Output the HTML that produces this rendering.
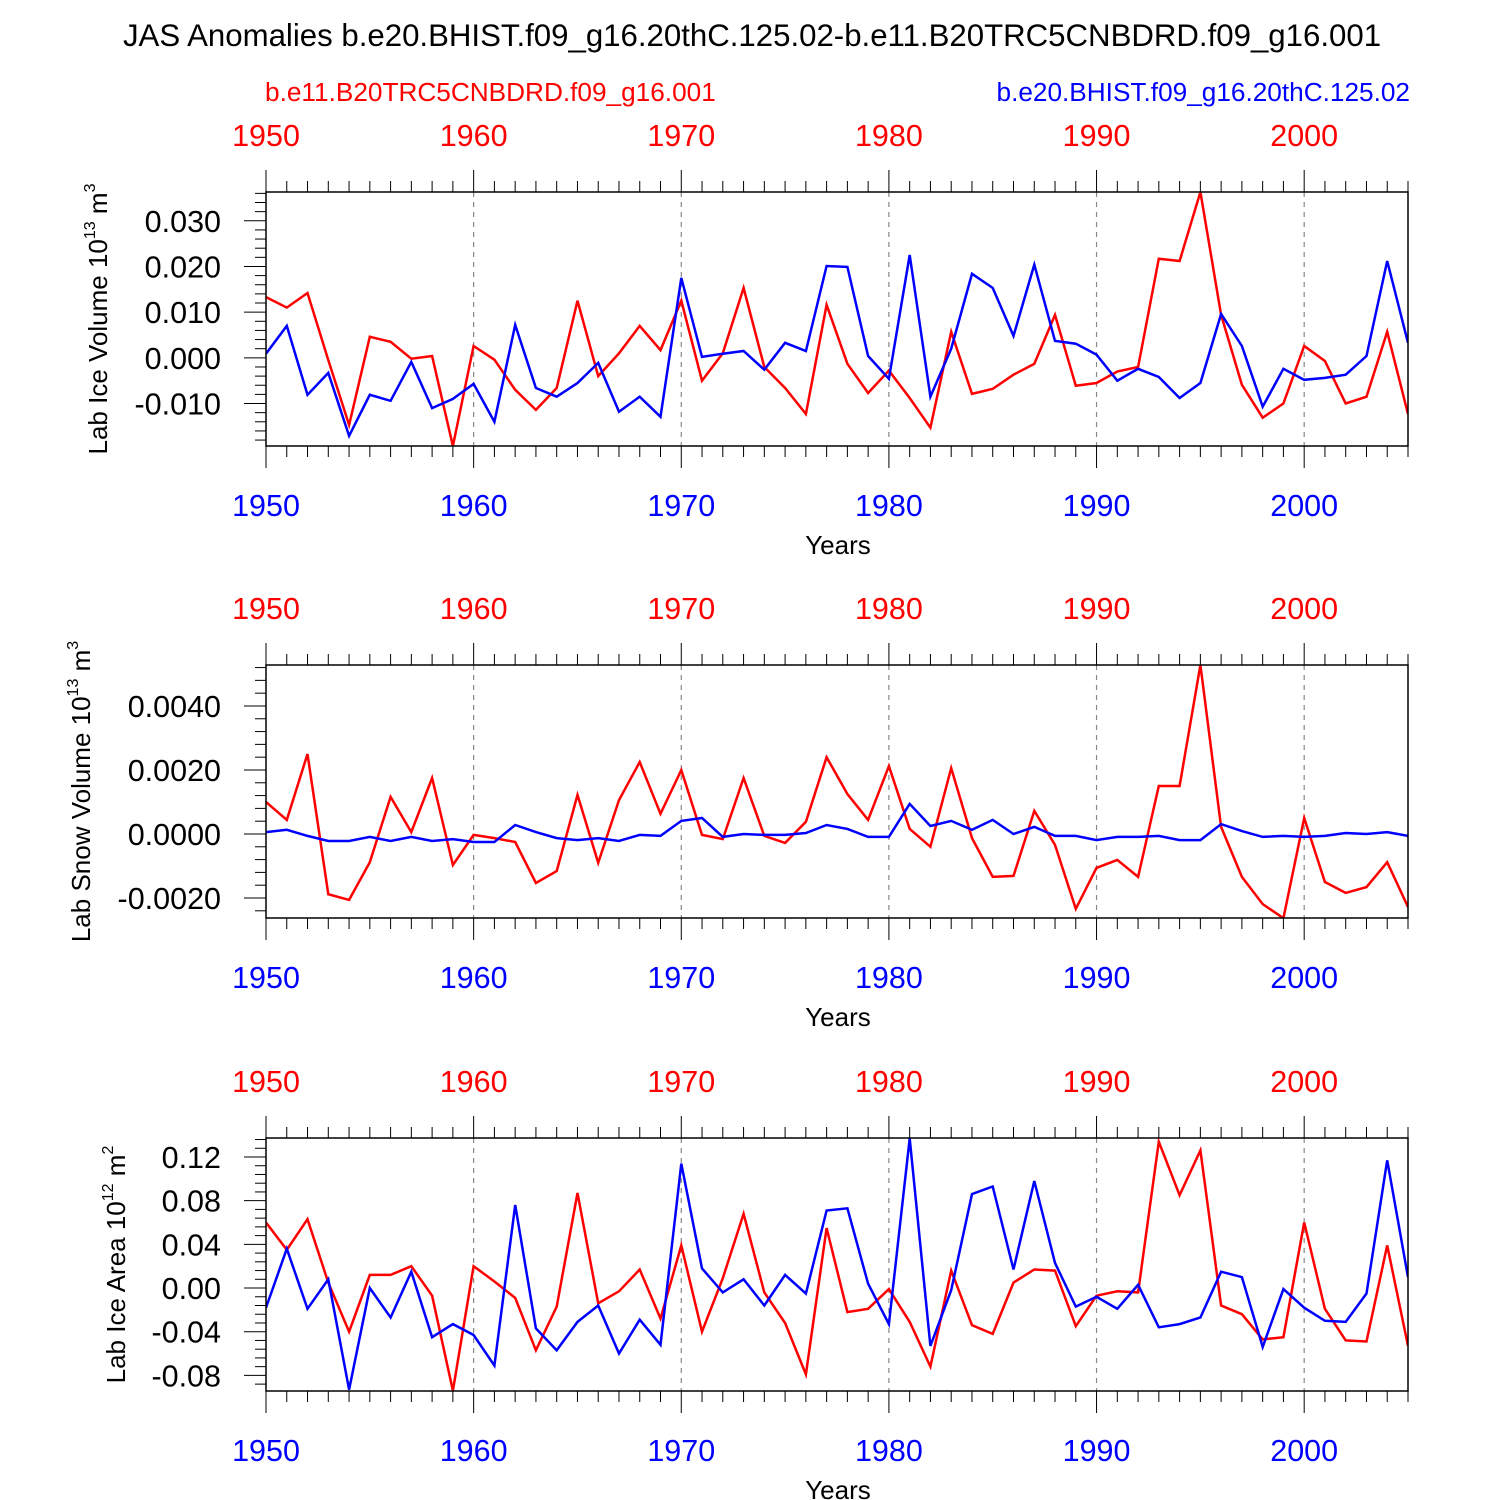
<!DOCTYPE html>
<html><head><meta charset="utf-8"><style>
html,body{margin:0;padding:0;background:#fff;}
svg{display:block;font-family:"Liberation Sans",Arial,sans-serif;}
</style></head><body>
<svg id="chart" width="1500" height="1500" viewBox="0 0 1500 1500" xmlns="http://www.w3.org/2000/svg">
<text x="752" y="46" font-size="31.2" text-anchor="middle">JAS Anomalies b.e20.BHIST.f09_g16.20thC.125.02-b.e11.B20TRC5CNBDRD.f09_g16.001</text>
<text x="265" y="101" font-size="26.2" fill="#ff0000">b.e11.B20TRC5CNBDRD.f09_g16.001</text>
<text x="1410" y="101" font-size="26.2" fill="#0000ff" text-anchor="end">b.e20.BHIST.f09_g16.20thC.125.02</text>
</svg>
<script>
const years = [];
for (let y = 1950; y <= 2005; y++) years.push(y);
const iceVolRed = [0.0133,0.011,0.0142,-0.0005,-0.0147,0.0046,0.0035,-0.0002,0.0004,-0.0193,0.0026,-0.0004,-0.007,-0.0114,-0.0066,0.0125,-0.004,0.001,0.007,0.0017,0.0125,-0.005,0.001,0.0153,-0.002,-0.0066,-0.0123,0.0116,-0.0013,-0.0077,-0.0028,-0.0088,-0.0153,0.0057,-0.0079,-0.0068,-0.0037,-0.0013,0.0094,-0.0061,-0.0055,-0.003,-0.002,0.0217,0.0212,0.0363,0.0094,-0.0059,-0.0131,-0.01,0.0026,-0.0007,-0.01,-0.0085,0.0057,-0.0123];
const iceVolBlue = [0.0009,0.007,-0.0081,-0.0033,-0.0171,-0.0081,-0.0094,-0.0009,-0.011,-0.009,-0.0057,-0.014,0.0072,-0.0066,-0.0085,-0.0055,-0.0011,-0.0118,-0.0085,-0.0129,0.0175,0.0002,0.0009,0.0015,-0.0026,0.0033,0.0015,0.0201,0.0199,0.0004,-0.0046,0.0225,-0.0085,0.002,0.0184,0.0153,0.0048,0.0204,0.0037,0.0031,0.0007,-0.005,-0.0024,-0.0042,-0.0088,-0.0055,0.0096,0.0026,-0.0107,-0.0024,-0.0048,-0.0044,-0.0037,0.0004,0.0212,0.0033];
const snowVolRed = [1.0,0.44,2.5,-1.88,-2.06,-0.88,1.16,0.06,1.75,-0.97,-0.03,-0.13,-0.25,-1.53,-1.16,1.22,-0.9,1.06,2.25,0.63,2.0,-0.03,-0.16,1.75,-0.06,-0.28,0.38,2.4,1.25,0.44,2.12,0.16,-0.4,2.06,-0.13,-1.34,-1.31,0.72,-0.34,-2.34,-1.06,-0.81,-1.34,1.5,1.5,5.28,0.22,-1.34,-2.19,-2.63,0.5,-1.5,-1.84,-1.66,-0.88,-2.28].map(v=>v/1000);
const snowVolBlue = [0.06,0.13,-0.06,-0.22,-0.22,-0.09,-0.22,-0.09,-0.22,-0.16,-0.25,-0.25,0.28,0.06,-0.13,-0.19,-0.13,-0.22,-0.03,-0.06,0.41,0.5,-0.09,0,-0.03,-0.03,0.03,0.28,0.16,-0.09,-0.09,0.94,0.25,0.41,0.13,0.44,0,0.22,-0.06,-0.06,-0.19,-0.09,-0.09,-0.06,-0.19,-0.19,0.31,0.09,-0.09,-0.06,-0.09,-0.06,0.03,0,0.06,-0.06].map(v=>v/1000);
const iceAreaRed = [0.060,0.035,0.063,0.005,-0.040,0.012,0.012,0.020,-0.007,-0.094,0.020,0.006,-0.009,-0.057,-0.017,0.087,-0.014,-0.003,0.017,-0.028,0.039,-0.040,0.009,0.068,-0.004,-0.032,-0.079,0.055,-0.022,-0.019,-0.001,-0.031,-0.072,0.016,-0.034,-0.042,0.005,0.017,0.016,-0.035,-0.007,-0.003,-0.004,0.134,0.085,0.126,-0.016,-0.024,-0.047,-0.045,0.060,-0.019,-0.048,-0.049,0.039,-0.053];
const iceAreaBlue = [-0.018,0.036,-0.019,0.008,-0.093,0.000,-0.027,0.015,-0.045,-0.033,-0.043,-0.071,0.076,-0.037,-0.057,-0.031,-0.016,-0.060,-0.029,-0.052,0.114,0.018,-0.004,0.008,-0.016,0.012,-0.005,0.071,0.073,0.004,-0.033,0.137,-0.053,-0.002,0.086,0.093,0.017,0.098,0.023,-0.017,-0.008,-0.019,0.003,-0.036,-0.033,-0.027,0.015,0.010,-0.054,-0.001,-0.018,-0.030,-0.031,-0.005,0.117,0.010];
const decadeLabels = ["1950","1960","1970","1980","1990","2000"];
const iceVolTicks = [-0.01,0,0.01,0.02,0.03];
const iceVolTickLabels = ["-0.010","0.000","0.010","0.020","0.030"];
const snowTicks = [-0.002,0,0.002,0.004];
const snowTickLabels = ["-0.0020","0.0000","0.0020","0.0040"];
const areaTicks = [-0.08,-0.04,0,0.04,0.08,0.12];
const areaTickLabels = ["-0.08","-0.04","0.00","0.04","0.08","0.12"];

const NS="http://www.w3.org/2000/svg";
const svg=document.getElementById('chart');
function mk(tag,attrs,parent){const e=document.createElementNS(NS,tag);for(const k in attrs)e.setAttribute(k,attrs[k]);(parent||svg).appendChild(e);return e;}
const X0=266,X1=1408;
function xs(yr){return X0+(yr-1950)*(X1-X0)/55;}

const panels=[
 {name:'ice-volume',top:192,bot:446,ymin:-0.0193,ymax:0.0363,red:iceVolRed,blue:iceVolBlue,ticks:iceVolTicks,labels:iceVolTickLabels,minor:0.002,title:'Lab Ice Volume 10',exp:'13',unit:' m',uexp:'3',tx:107},
 {name:'snow-volume',top:665,bot:918,ymin:-0.002625,ymax:0.00528,red:snowVolRed,blue:snowVolBlue,ticks:snowTicks,labels:snowTickLabels,minor:0.0004,title:'Lab Snow Volume 10',exp:'13',unit:' m',uexp:'3',tx:90},
 {name:'ice-area',top:1138,bot:1391,ymin:-0.0943,ymax:0.1374,red:iceAreaRed,blue:iceAreaBlue,ticks:areaTicks,labels:areaTickLabels,minor:0.008,title:'Lab Ice Area 10',exp:'12',unit:' m',uexp:'2',tx:125}
];
panels.forEach((p,pi)=>{
 const g=mk('g',{});
 
 
 const ys=v=>p.bot-(v-p.ymin)*(p.bot-p.top)/(p.ymax-p.ymin);
 for(let d=1960;d<=2000;d+=10){const l=mk('line',{x1:xs(d),x2:xs(d),y1:p.top,y2:p.bot,stroke:'#888','stroke-width':1.2,'stroke-dasharray':'5,5'},g);
  
  }
 for(let y=1950;y<=2005;y++){const maj=(y%10===0);const len=maj?22:11;
  mk('line',{x1:xs(y),x2:xs(y),y1:p.top,y2:p.top-len,stroke:'#000','stroke-width':1},g);
  mk('line',{x1:xs(y),x2:xs(y),y1:p.bot,y2:p.bot+len,stroke:'#000','stroke-width':1},g);}
 const start=Math.ceil(p.ymin/p.minor-1e-6);
 for(let k=start;k*p.minor<=p.ymax+1e-9;k++){const v=k*p.minor;const maj=Math.abs(Math.round(k)%5)===0;const len=maj?22:11;
  mk('line',{x1:X0,x2:X0-len,y1:ys(v),y2:ys(v),stroke:'#000','stroke-width':1},g);}
 p.ticks.forEach((v,i)=>{const t=mk('text',{x:X0-45,y:ys(v)+11,'font-size':30.5,'text-anchor':'end'},g);t.textContent=p.labels[i];
  
  });
 decadeLabels.forEach(s=>{const yr=+s;
  const t1=mk('text',{x:xs(yr),y:p.top-46,'font-size':30.5,'text-anchor':'middle',fill:'#ff0000'},g);t1.textContent=s;
  
  
  const t2=mk('text',{x:xs(yr),y:p.bot+70,'font-size':30.5,'text-anchor':'middle',fill:'#0000ff'},g);t2.textContent=s;
  
  });
 const xt=mk('text',{x:838,y:p.bot+108,'font-size':26,'text-anchor':'middle'},g);xt.textContent='Years';
 
 
 const cy=(p.top+p.bot)/2;
 const yt=mk('text',{x:p.tx,y:cy,'font-size':26,'text-anchor':'middle',transform:`rotate(-90 ${p.tx} ${cy})`},g);
 
 
 const s1=mk('tspan',{},yt);s1.textContent=p.title;
 const s2=mk('tspan',{'font-size':16,dy:-12},yt);s2.textContent=p.exp;
 const s3=mk('tspan',{dy:12},yt);s3.textContent=p.unit;
 const s4=mk('tspan',{'font-size':16,dy:-12},yt);s4.textContent=p.uexp;
 const cp=mk('clipPath',{id:'cp'+pi},g);mk('rect',{x:X0,y:p.top,width:X1-X0,height:p.bot-p.top},cp);
 [['red',p.red,'#ff0000'],['blue',p.blue,'#0000ff']].forEach(([nm,arr,c])=>{
  const d=arr.map((v,i)=>(i?'L':'M')+xs(years[i]).toFixed(1)+','+ys(v).toFixed(1)).join(' ');
  const path=mk('path',{d:d,fill:'none',stroke:c,'stroke-width':2.5,'stroke-linejoin':'miter','clip-path':`url(#cp${pi})`},g);
  
  });
 const fr=mk('rect',{x:X0,y:p.top,width:X1-X0,height:p.bot-p.top,fill:'none',stroke:'#000','stroke-width':1.5},g);
 
 
});
</script>
</body></html>
